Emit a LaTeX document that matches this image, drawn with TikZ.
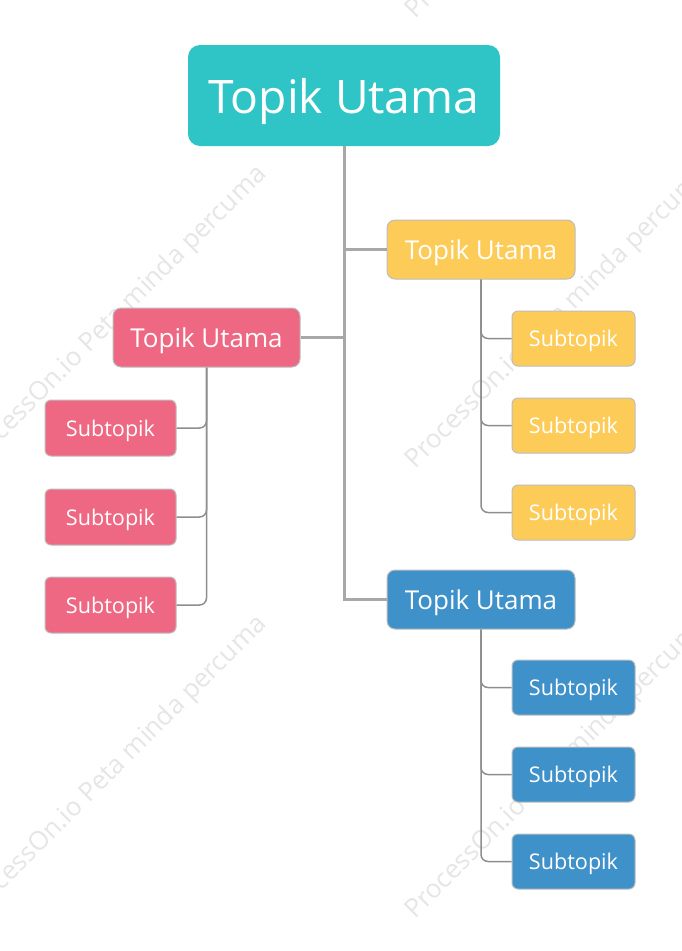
\documentclass[tikz,border=0pt]{standalone}
\usepackage{fontspec}
\setmainfont{Open Sans}
\definecolor{cteal}{HTML}{2FC5C7}
\definecolor{cyellow}{HTML}{FDCC58}
\definecolor{cpink}{HTML}{EF6883}
\definecolor{cblue}{HTML}{3F91CA}
\definecolor{cborder}{HTML}{BDBDBD}
\definecolor{ctrunk}{HTML}{A8A8A8}
\definecolor{cchild}{HTML}{8E8E8E}
\definecolor{cwater}{HTML}{E6E6E6}
\tikzset{
  rootbox/.style={fill=cteal, rounded corners=12pt, inner sep=0pt, text depth=0pt, minimum width=312pt, minimum height=101pt, text=white, font=\fontsize{46.2}{54}\selectfont},
  mainbox/.style={draw=cborder, line width=1pt, rounded corners=8pt, inner sep=0pt, text depth=0pt, minimum width=188pt, minimum height=59pt, text=white, font=\fontsize{26}{30}\selectfont},
  subbox/.style={draw=cborder, line width=1pt, rounded corners=6pt, inner sep=0pt, text depth=0pt, minimum width=123pt, minimum height=55pt, text=white, font=\fontsize{21.6}{26}\selectfont},
  trunk/.style={draw=ctrunk, line width=3pt},
  childline/.style={draw=cchild, line width=1.5pt, rounded corners=7pt},
  water/.style={text=cwater, anchor=base west, rotate=45, inner sep=0pt, font=\fontsize{26}{30}\selectfont}
}
\begin{document}
\begin{tikzpicture}[x=1pt,y=-1pt]
\useasboundingbox (0,0) rectangle (681,951);
\fill[white] (0,0) rectangle (681,951);
% watermarks
\node[water] (w1) at (-28,471) {ProcessOn.io Peta minda percuma};
\node[water] (w2) at (-28,921) {ProcessOn.io Peta minda percuma};
\node[water] (w3) at (415,20) {ProcessOn.io Peta minda percuma};
\node[water] (w4) at (415,470) {ProcessOn.io Peta minda percuma};
\node[water] (w5) at (415,920) {ProcessOn.io Peta minda percuma};
% nodes
\node[rootbox] (root) at (344,95.5) {Topik Utama};
\node[mainbox, fill=cyellow] (ym) at (481,249.5) {Topik Utama};
\node[mainbox, fill=cpink, minimum width=187pt] (pm) at (206.5,337.5) {Topik Utama};
\node[mainbox, fill=cblue] (bm) at (481,599.5) {Topik Utama};
\node[subbox, fill=cyellow] (ys1) at (573.5,338.5) {Subtopik};
\node[subbox, fill=cyellow] (ys2) at (573.5,425.5) {Subtopik};
\node[subbox, fill=cyellow] (ys3) at (573.5,512.5) {Subtopik};
\node[subbox, fill=cblue] (bs1) at (573.5,687.5) {Subtopik};
\node[subbox, fill=cblue] (bs2) at (573.5,774.5) {Subtopik};
\node[subbox, fill=cblue] (bs3) at (573.5,861.5) {Subtopik};
\node[subbox, fill=cpink, minimum width=131pt, minimum height=56pt] (ps1) at (110.5,428) {Subtopik};
\node[subbox, fill=cpink, minimum width=131pt, minimum height=56pt] (ps2) at (110.5,517) {Subtopik};
\node[subbox, fill=cpink, minimum width=131pt, minimum height=56pt] (ps3) at (110.5,605) {Subtopik};
% trunk connectors
\draw[trunk] (root.south) |- (ym.west);
\draw[trunk] (root.south) |- (pm.east);
\draw[trunk] (root.south) |- (bm.west);
% child connectors
\foreach \c in {ys1,ys2,ys3} \draw[childline] (ym.south) |- (\c.west);
\foreach \c in {bs1,bs2,bs3} \draw[childline] (bm.south) |- (\c.west);
\foreach \c in {ps1,ps2,ps3} \draw[childline] (pm.south) |- (\c.east);
\end{tikzpicture}
\end{document}
